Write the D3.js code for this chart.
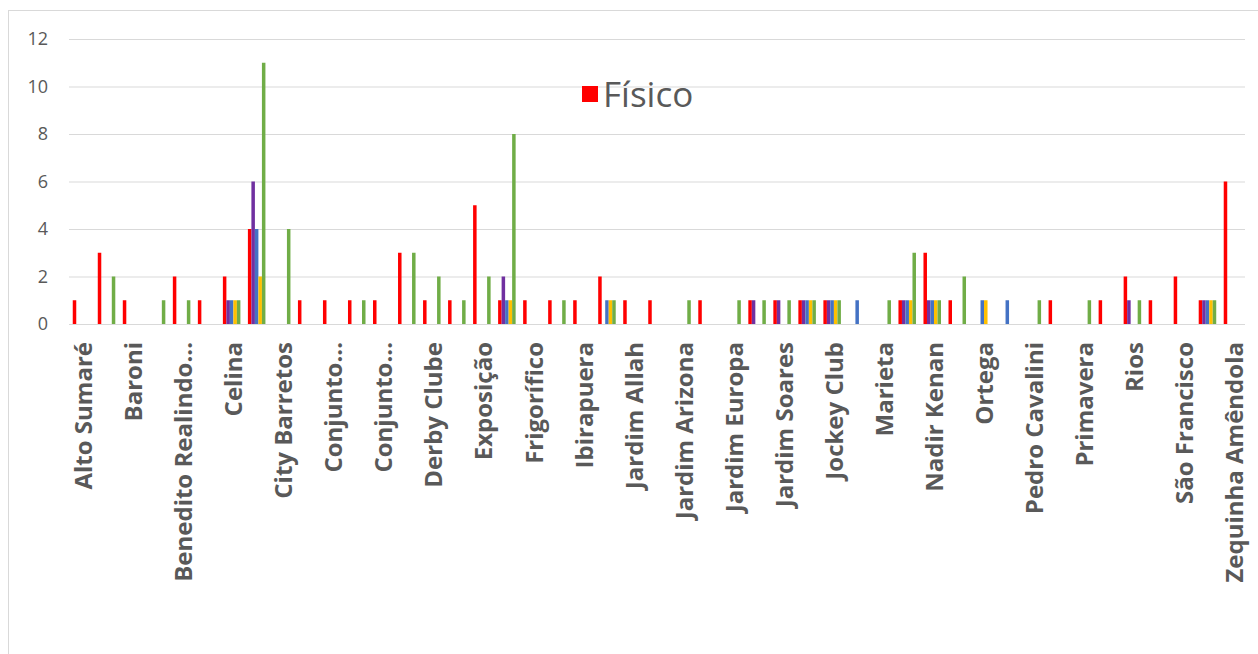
<!DOCTYPE html>
<html>
<head>
<meta charset="utf-8">
<script src="https://cdn.jsdelivr.net/npm/d3@7"></script>
<style>
  html, body { margin: 0; padding: 0; background: #fff; }
  svg { display: block; }
</style>
</head>
<body>
<svg id="chart" width="1258" height="654"></svg>
<script>
// Neighbourhoods, in the order they appear on the axis
const categories = [
  "Alto Sumaré", "América", "Baroni", "Bela Vista", "Benedito Realindo Corrêa",
  "Bom Jesus", "Celina", "Centro", "City Barretos", "Cohab",
  "Conjunto Habitacional Baroni", "Conjunto Habitacional Derby", "Conjunto Habitacional Mais Feliz",
  "Cristiano de Carvalho", "Derby Clube", "Dr. Paulo Prata", "Exposição", "Fortaleza",
  "Frigorífico", "Guarani", "Ibirapuera", "Jardim Aeroporto", "Jardim Allah",
  "Jardim América", "Jardim Arizona", "Jardim das Nações", "Jardim Europa",
  "Jardim Paulista", "Jardim Soares", "Jardim Universitário", "Jockey Club",
  "Leda Amêndola", "Marieta", "Monte Alegre", "Nadir Kenan", "Nova Barretos",
  "Ortega", "Parque São Jorge", "Pedro Cavalini", "Pereira", "Primavera",
  "Progresso", "Rios", "Santa Cecília", "São Francisco", "Vila Nogueira",
  "Zequinha Amêndola"
];

// Text shown under every second category
const tickLabels = [
  "Alto Sumaré", "Baroni", "Benedito Realindo...", "Celina", "City Barretos",
  "Conjunto...", "Conjunto...", "Derby Clube", "Exposição", "Frigorífico",
  "Ibirapuera", "Jardim Allah", "Jardim Arizona", "Jardim Europa", "Jardim Soares",
  "Jockey Club", "Marieta", "Nadir Kenan", "Ortega", "Pedro Cavalini",
  "Primavera", "Rios", "São Francisco", "Zequinha Amêndola"
];

const yTicks = [0, 2, 4, 6, 8, 10, 12];

const seriesNames  = ["Físico", "Psicológico", "Moral", "Patrimonial", "Sexual"];
const seriesColors = ["#FF0000", "#7030A0", "#4472C4", "#FFC000", "#70AD47"];

const fisico      = [1,3,1,0,2,1,2,4,0,1,1,1,1,3,1,1,5,1,1,1,1,2,1,1,0,1,0,1,1,1,1,0,0,1,3,1,0,0,0,1,0,1,2,1,2,1,6];
const psicologico = [0,0,0,0,0,0,1,6,0,0,0,0,0,0,0,0,0,2,0,0,0,0,0,0,0,0,0,1,1,1,1,0,0,1,1,0,0,0,0,0,0,0,1,0,0,1,0];
const moral       = [0,0,0,0,0,0,1,4,0,0,0,0,0,0,0,0,0,1,0,0,0,1,0,0,0,0,0,0,0,1,1,1,0,1,1,0,1,1,0,0,0,0,0,0,0,1,0];
const patrimonial = [0,0,0,0,0,0,1,2,0,0,0,0,0,0,0,0,0,1,0,0,0,1,0,0,0,0,0,0,0,1,1,0,0,1,1,0,1,0,0,0,0,0,0,0,0,1,0];
const sexual      = [0,2,0,1,1,0,1,11,4,0,0,1,0,3,2,1,2,8,0,1,0,1,0,0,1,0,1,1,1,1,1,0,1,3,1,2,0,0,1,0,1,0,1,0,0,1,0];

const seriesValues = [fisico, psicologico, moral, patrimonial, sexual];

const svg = d3.select("#chart");
const W = 1258, H = 654;
const plot = { left: 69, right: 1245, top: 39, bottom: 324 };

// Chart-area frame
svg.append("rect")
  .attr("x", 8.5).attr("y", 10.5)
  .attr("width", W + 20).attr("height", H + 20)
  .attr("fill", "#fff").attr("stroke", "#d9d9d9").attr("stroke-width", 1);

const x = d3.scaleBand()
  .domain(categories)
  .range([plot.left, plot.right])
  .paddingInner(0).paddingOuter(0);

const xs = d3.scaleBand()
  .domain(d3.range(seriesNames.length))
  .range([0, x.bandwidth()])
  .paddingInner(0)
  .paddingOuter(1.07);

const y = d3.scaleLinear().domain([0, 12]).range([plot.bottom, plot.top]);

// Horizontal gridlines + y labels
const yAxis = d3.axisLeft(y).tickValues(yTicks).tickSize(-(plot.right - plot.left)).tickPadding(21);
const gy = svg.append("g").attr("transform", `translate(${plot.left},0)`).call(yAxis);
gy.select(".domain").remove();
gy.selectAll(".tick line").attr("stroke", "#d9d9d9").attr("stroke-width", 1);
gy.selectAll(".tick text")
  .attr("fill", "#595959")
  .style("font-family", "'Open Sans', sans-serif")
  .style("font-size", "18px");

// Bars
const bars = svg.append("g");
seriesValues.forEach((vals, s) => {
  bars.selectAll(null)
    .data(vals.map((v, i) => ({ cat: categories[i], v })).filter(d => d.v > 0))
    .enter().append("rect")
    .attr("x", d => x(d.cat) + xs(s))
    .attr("width", xs.bandwidth())
    .attr("y", d => y(d.v))
    .attr("height", d => y(0) - y(d.v))
    .attr("fill", seriesColors[s]);
});

// Category axis, labelled every second category
const labelled = categories.filter((c, i) => i % 2 === 0);
const xAxis = d3.axisBottom(x)
  .tickValues(labelled)
  .tickSize(0)
  .tickFormat(c => tickLabels[labelled.indexOf(c)]);
const gx = svg.append("g").attr("transform", `translate(0,${plot.bottom})`).call(xAxis);
gx.select(".domain").attr("stroke", "#d9d9d9").attr("d", `M${plot.left},0.5H${plot.right}`);
gx.selectAll(".tick text")
  .attr("transform", "rotate(-90)")
  .attr("text-anchor", "end")
  .attr("x", -18)
  .attr("y", 2)
  .attr("dy", "0.36em")
  .attr("fill", "#595959")
  .style("font-family", "'Open Sans', sans-serif")
  .style("font-weight", "700")
  .style("font-size", "24px");

// Legend
const legend = svg.append("g").attr("transform", "translate(582,86)");
legend.append("rect").attr("width", 16).attr("height", 16).attr("fill", seriesColors[0]);
legend.append("text")
  .attr("x", 21).attr("y", 8).attr("dy", "0.36em")
  .attr("fill", "#595959")
  .style("font-family", "'Open Sans', sans-serif")
  .style("font-size", "35px")
  .text(seriesNames[0]);
</script>
</body>
</html>
